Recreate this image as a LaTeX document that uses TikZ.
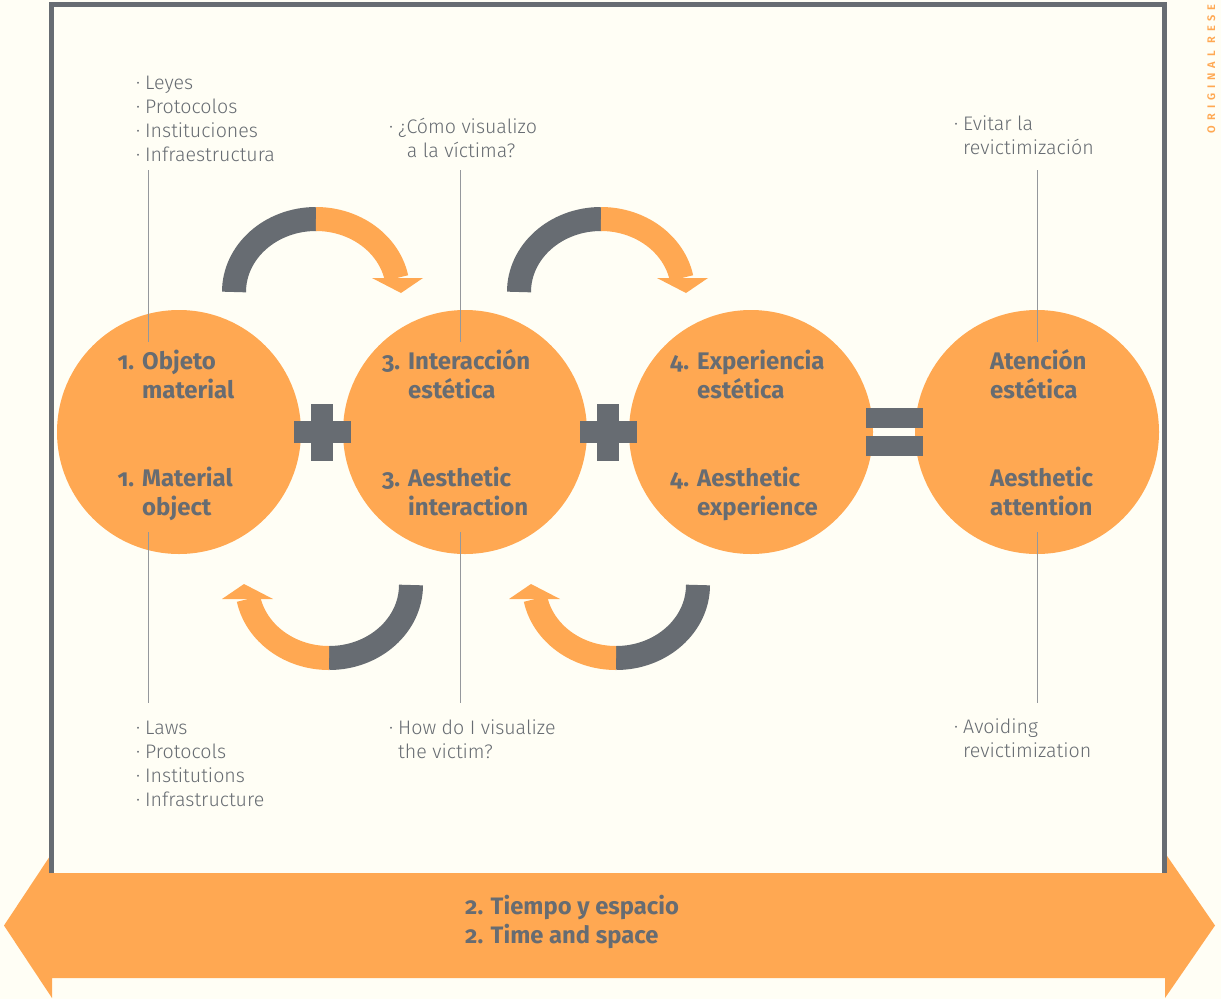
\documentclass[tikz,border=0pt]{standalone}
\usepackage{fontspec}
\setmainfont{Fira Sans}
\newfontfamily\headfont{Fira Sans Bold}[Numbers=OldStyle]
\newfontfamily\listfont{Fira Sans Light}
\newfontfamily\tagfont{Fira Sans SemiBold}[LetterSpace=45]
\usetikzlibrary{positioning, calc}

\definecolor{paper}{RGB}{255,254,245}
\definecolor{amber}{RGB}{255,168,82}
\definecolor{slate}{RGB}{103,108,114}

% bullet hanging in the left margin of a list line
\newcommand{\dotitem}{\llap{·\hspace{5pt}}}

\tikzset{
    stage/.style={circle, fill=amber, minimum size=244pt, inner sep=0pt},
    stagetext/.style={font=\headfont\fontsize{24}{28.5}\selectfont, text=slate,
                      align=left, anchor=base west, inner sep=0pt},
    notetext/.style={font=\listfont\fontsize{19.6}{24}\selectfont, text=slate,
                     align=left, anchor=base west, inner sep=0pt},
    bandtext/.style={font=\headfont\fontsize{23.8}{28.5}\selectfont, text=slate,
                     align=left, anchor=base west, inner sep=0pt},
    leader/.style={draw=slate!70, line width=1pt},
    band/.style={line width=24pt},
}

\begin{document}
\begin{tikzpicture}[x=1pt, y=-1pt]
    \useasboundingbox (0,0) rectangle (1221,999);
    \fill[paper] (0,0) rectangle (1221,999);

    % Time and space band along the bottom
    \fill[amber] (4,925.5) -- (52,853) -- (52,873) -- (1165,873) -- (1165,853)
        -- (1215,925.5) -- (1165,998) -- (1165,978) -- (52,978) -- (52,998) -- cycle;
    % (base anchor sits on the last line)
    \node[bandtext] (tiempo) at (465,943) {2. Tiempo y espacio\\2. Time and space};

    % Open frame standing on the band
    \draw[slate, line width=5pt] (51.5,873) -- (51.5,4.5) -- (1164,4.5) -- (1164,873);

    % The four stages
    \node[stage] (objeto) at (179,432) {};
    \node[stage] (interaccion) at (465,432) {};
    \node[stage] (experiencia) at (751,432) {};
    \node[stage] (atencion) at (1037,432) {};

    % Plus and equal signs between the stages
    \coordinate (plus1) at ($(objeto)!0.5!(interaccion)$);
    \coordinate (plus2) at ($(interaccion)!0.5!(experiencia)$);
    \coordinate (equal) at ($(experiencia)!0.5!(atencion)$);
    \foreach \c in {plus1, plus2} {
        \fill[slate] ($(\c)+(-28.5,-11)$) rectangle ++(57,22);
        \fill[slate] ($(\c)+(-11,-28.5)$) rectangle ++(22,57);
    }
    \fill[slate] ($(equal)+(-28.5,-24)$) rectangle ++(57,20);
    \fill[slate] ($(equal)+(-28.5,4)$) rectangle ++(57,20);

    % Turning arrows above and below (grey tail, orange head)
    \foreach \cx/\cy/\rot in {316/292/0, 601/292/0, 329/585/180, 616/585/180} {
        \begin{scope}[shift={(\cx,\cy)}, rotate=\rot]
            \draw[slate, band] (-82,0) arc[start angle=180, end angle=270, x radius=82, y radius=73];
            \draw[amber, band] (0,-73) arc[start angle=270, end angle=349, x radius=82, y radius=73];
            \fill[amber] (56,-14) -- (107,-14) -- (85,1) -- cycle;
        \end{scope}
    }

    % Stage labels
    \node[stagetext] (objeto-es) at (142,398) {\llap{1.\hspace{8pt}}Objeto\\material};
    \node[stagetext] (objeto-en) at (142,515) {\llap{1.\hspace{8pt}}Material\\object};
    \node[stagetext] (interaccion-es) at (408,398) {\llap{3.\hspace{8pt}}Interacción\\estética};
    \node[stagetext] (interaccion-en) at (408,515) {\llap{3.\hspace{8pt}}Aesthetic\\interaction};
    \node[stagetext] (experiencia-es) at (697,398) {\llap{4.\hspace{8pt}}Experiencia\\estética};
    \node[stagetext] (experiencia-en) at (697,515) {\llap{4.\hspace{8pt}}Aesthetic\\experience};
    \node[stagetext] (atencion-es) at (990,398) {Atención\\estética};
    \node[stagetext] (atencion-en) at (990,515) {Aesthetic\\attention};

    % Notes above and below
    \node[notetext] (leyes) at (145,161)
        {\dotitem Leyes\\\dotitem Protocolos\\\dotitem Instituciones\\\dotitem Infraestructura};
    \node[notetext] (victima) at (398,157) {\dotitem ¿Cómo visualizo\\\phantom{¿}a la víctima?};
    \node[notetext] (evitar) at (963,154) {\dotitem Evitar la\\revictimización};
    \node[notetext] (laws) at (145,806)
        {\dotitem Laws\\\dotitem Protocols\\\dotitem Institutions\\\dotitem Infrastructure};
    \node[notetext] (victim) at (398,758) {\dotitem How do I visualize\\the victim?};
    \node[notetext] (avoiding) at (963,757) {\dotitem Avoiding\\revictimization};

    % Leader lines from the notes into the stages
    \foreach \x/\name in {148/objeto, 460/interaccion, 1037/atencion} {
        \coordinate (\name-up) at (\x,170);
        \coordinate (\name-top) at (\x,342);
        \coordinate (\name-bottom) at (\x,532);
        \coordinate (\name-down) at (\x,703);
        \draw[leader] (\name-up) -- (\name-top);
        \draw[leader] (\name-bottom) -- (\name-down);
    }

    % Section tag on the margin
    \node[font=\tagfont\fontsize{11}{11}\selectfont, text=amber, rotate=90,
          anchor=base east, inner sep=0pt] (section-tag) at (1215,4) {ORIGINAL RESE};
\end{tikzpicture}
\end{document}
